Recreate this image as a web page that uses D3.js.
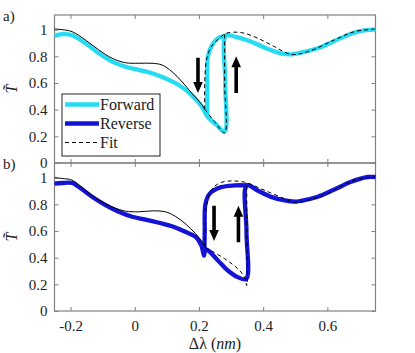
<!DOCTYPE html>
<html>
<head>
<meta charset="utf-8">
<script src="https://cdn.jsdelivr.net/npm/d3@7"></script>
<style>
  body { margin: 0; background: #fff; }
  svg { display: block; }
</style>
</head>
<body>
<svg id="plot" width="415" height="353"></svg>
<script>
// ---- data ----
const xTicks = [-0.2, 0, 0.2, 0.4, 0.6];
const yTicks = [0, 0.2, 0.4, 0.6, 0.8, 1];
const legendLabels = ["Forward", "Reverse", "Fit"];

// panel a
const forwardMain = [[-0.25,0.955],[-0.226,0.966],[-0.195,0.958],[-0.154,0.898],[-0.112,0.823],[-0.07,0.76],
  [-0.029,0.722],[0.012,0.698],[0.054,0.673],[0.095,0.635],[0.137,0.585],[0.175,0.515],[0.207,0.43],[0.226,0.35],
  [0.253,0.29],[0.28,0.235],[0.282,0.6],[0.284,0.955],[0.311,0.948],[0.363,0.91],[0.415,0.855],[0.46,0.82],
  [0.49,0.815],[0.518,0.828],[0.57,0.86],[0.622,0.915],[0.674,0.97],[0.715,0.995],[0.75,1.0]];
const forwardUpper = [[0.226,0.35],[0.226,0.6],[0.228,0.8],[0.24,0.88],[0.259,0.935],[0.284,0.955]];
const fitSolidA = [[-0.25,1.005],[-0.226,1.0],[-0.195,0.985],[-0.154,0.923],[-0.112,0.848],[-0.07,0.785],
  [-0.029,0.752],[0.012,0.748],[0.054,0.748],[0.085,0.735],[0.116,0.685],[0.147,0.61],[0.178,0.523],[0.21,0.435],[0.218,0.403]];
const fitUpperA = [[0.218,0.403],[0.218,0.6],[0.222,0.75],[0.23,0.83],[0.244,0.89],[0.264,0.937],[0.285,0.973],
  [0.332,0.978],[0.384,0.935],[0.435,0.873],[0.487,0.815],[0.539,0.835],[0.622,0.923],[0.684,0.985],[0.75,1.005]];
const fitLowerA = [[0.218,0.403],[0.249,0.31],[0.28,0.225],[0.28,0.6],[0.28,0.97]];
const arrowsA = [{x: 0.197, y0: 0.79, y1: 0.525}, {x: 0.316, y0: 0.525, y1: 0.8}];

// panel b
const reverseMain = [[-0.25,0.955],[-0.226,0.96],[-0.195,0.96],[-0.174,0.93],[-0.133,0.857],[-0.091,0.794],
  [-0.05,0.744],[-0.008,0.707],[0.033,0.686],[0.075,0.662],[0.116,0.636],[0.157,0.594],[0.189,0.557],[0.207,0.495],
  [0.213,0.44],[0.216,0.415],[0.22,0.46],[0.228,0.455],[0.259,0.379],[0.29,0.304],[0.321,0.254],[0.347,0.24],
  [0.348,0.6],[0.349,0.942],[0.384,0.902],[0.425,0.856],[0.467,0.829],[0.498,0.82],[0.518,0.826],[0.57,0.857],
  [0.622,0.911],[0.674,0.969],[0.726,1.005],[0.75,1.005]];
const reverseUpper = [[0.349,0.942],[0.311,0.942],[0.269,0.929],[0.233,0.879],[0.22,0.8],[0.218,0.6],[0.217,0.46]];
const fitSolidB = [[-0.25,1.0],[-0.226,0.994],[-0.195,0.981],[-0.154,0.906],[-0.112,0.831],[-0.07,0.781],
  [-0.029,0.749],[0.012,0.744],[0.054,0.751],[0.095,0.744],[0.126,0.711],[0.157,0.656],[0.189,0.581],[0.21,0.519],[0.22,0.48]];
const fitUpperB = [[0.22,0.48],[0.22,0.65],[0.224,0.8],[0.238,0.904],[0.26,0.955],[0.29,0.974],[0.342,0.966],
  [0.405,0.904],[0.467,0.842],[0.498,0.812],[0.54,0.83],[0.6,0.88],[0.65,0.945],[0.7,0.99],[0.75,1.005]];
const fitLowerB = [[0.22,0.48],[0.228,0.467],[0.28,0.392],[0.321,0.317],[0.342,0.254],[0.349,0.19],[0.349,0.6],[0.349,0.96]];
const arrowsB = [{x: 0.247, y0: 0.79, y1: 0.525}, {x: 0.323, y0: 0.515, y1: 0.79}];

const cyan = "#26dcf2";
const blue = "#1414d6";
const FONT = "Liberation Serif";

// ---- layout ----
const svg = d3.select("#plot");
const left = 54.5, right = 375.5;
const panelH = 148;
const tops = [15, 163];

const x = d3.scaleLinear().domain([-0.25, 0.75]).range([left, right]);
const fmt = d => String(+d.toFixed(1));

function drawPanel(top, label, showXLabels) {
  const y = d3.scaleLinear().domain([0, 1.11]).range([top + panelH, top]);
  const g = svg.append("g");

  const styleAxis = sel => {
    sel.attr("font-family", FONT).attr("font-size", 15);
    sel.select(".domain").remove();
    sel.selectAll(".tick line").attr("stroke", "#808080");
    sel.selectAll("text").attr("fill", "#222");
  };

  g.append("g").attr("transform", `translate(${left},0)`)
    .call(d3.axisLeft(y).tickValues(yTicks).tickFormat(fmt).tickSizeInner(-4).tickSizeOuter(0).tickPadding(7))
    .call(styleAxis);
  g.append("g").attr("transform", `translate(${right},0)`)
    .call(d3.axisRight(y).tickValues(yTicks).tickFormat("").tickSizeInner(-4).tickSizeOuter(0))
    .call(styleAxis);
  g.append("g").attr("transform", `translate(0,${top + panelH})`)
    .call(d3.axisBottom(x).tickValues(xTicks).tickFormat(showXLabels ? fmt : "").tickSizeInner(-4).tickSizeOuter(0).tickPadding(9))
    .call(styleAxis);
  g.append("g").attr("transform", `translate(0,${top})`)
    .call(d3.axisTop(x).tickValues(xTicks).tickFormat("").tickSizeInner(-4).tickSizeOuter(0))
    .call(styleAxis);

  g.append("rect")
    .attr("x", left).attr("y", top).attr("width", right - left).attr("height", panelH)
    .attr("fill", "none").attr("stroke", "#808080").attr("stroke-width", 1.2);

  // panel letter
  svg.append("text").attr("x", 3).attr("y", top + 6)
    .attr("font-family", FONT).attr("font-size", 15).attr("fill", "#222").text(label);

  // y label
  svg.append("text")
    .attr("transform", `translate(17,${top + panelH / 2}) rotate(-90)`)
    .attr("text-anchor", "middle")
    .attr("font-family", FONT).attr("font-size", 16).attr("font-style", "italic").attr("fill", "#222")
    .text("T\u0303");

  return y;
}

const line = y => d3.line().x(d => x(d[0])).y(d => y(d[1])).curve(d3.curveCatmullRom.alpha(0.5));

function drawArrows(y, arrows) {
  arrows.forEach(a => {
    const px = x(a.x), p0 = y(a.y0), p1 = y(a.y1);
    const dir = p1 > p0 ? 1 : -1;
    const headLen = 11, headW = 4.8, shaftW = 1.8;
    const hb = p1 - dir * headLen;
    const pts = [[px - shaftW, p0], [px + shaftW, p0], [px + shaftW, hb], [px + headW, hb],
      [px, p1], [px - headW, hb], [px - shaftW, hb]];
    svg.append("path").attr("d", "M" + pts.join("L") + "Z").attr("fill", "#000");
  });
}

// panel a
const yA = drawPanel(tops[0], "a)", false);
const gA = svg.append("g");
gA.append("path").attr("d", line(yA)(forwardUpper)).attr("fill", "none").attr("stroke", cyan).attr("stroke-width", 4.3);
gA.append("path").attr("d", line(yA)(forwardMain)).attr("fill", "none").attr("stroke", cyan).attr("stroke-width", 4.3)
  .attr("stroke-linejoin", "round");
gA.append("path").attr("d", line(yA)(fitSolidA)).attr("fill", "none").attr("stroke", "#000").attr("stroke-width", 1);
[fitUpperA, fitLowerA].forEach(s => gA.append("path").attr("d", line(yA)(s)).attr("fill", "none")
  .attr("stroke", "#000").attr("stroke-width", 1).attr("stroke-dasharray", "4,3"));
drawArrows(yA, arrowsA);

// panel b
const yB = drawPanel(tops[1], "b)", true);
const gB = svg.append("g");
gB.append("path").attr("d", line(yB)(reverseUpper)).attr("fill", "none").attr("stroke", blue).attr("stroke-width", 4.3);
gB.append("path").attr("d", line(yB)(reverseMain)).attr("fill", "none").attr("stroke", blue).attr("stroke-width", 4.3)
  .attr("stroke-linejoin", "round");
gB.append("path").attr("d", line(yB)(fitSolidB)).attr("fill", "none").attr("stroke", "#000").attr("stroke-width", 1);
[fitUpperB, fitLowerB].forEach(s => gB.append("path").attr("d", line(yB)(s)).attr("fill", "none")
  .attr("stroke", "#000").attr("stroke-width", 1).attr("stroke-dasharray", "4,3"));
drawArrows(yB, arrowsB);

// legend
const lg = svg.append("g").attr("transform", "translate(62,94)");
lg.append("rect").attr("width", 98).attr("height", 62).attr("fill", "#fff").attr("stroke", "#222").attr("stroke-width", 1);
const legendStyles = [
  {stroke: cyan, w: 4.3, dash: null},
  {stroke: blue, w: 4.3, dash: null},
  {stroke: "#000", w: 1.2, dash: "4,3"}
];
legendLabels.forEach((t, i) => {
  const yy = 10.5 + i * 19;
  lg.append("line").attr("x1", 3).attr("x2", 37).attr("y1", yy).attr("y2", yy)
    .attr("stroke", legendStyles[i].stroke).attr("stroke-width", legendStyles[i].w)
    .attr("stroke-dasharray", legendStyles[i].dash);
  lg.append("text").attr("x", 38).attr("y", yy + 5)
    .attr("font-family", FONT).attr("font-size", 16).attr("fill", "#222").text(t);
});

// x axis title
const xt = svg.append("text").attr("x", (left + right) / 2).attr("y", 349).attr("text-anchor", "middle")
  .attr("font-family", FONT).attr("font-size", 16).attr("fill", "#222");
xt.append("tspan").text("\u0394\u03bb (");
xt.append("tspan").attr("font-style", "italic").text("nm");
xt.append("tspan").text(")");
</script>
</body>
</html>
